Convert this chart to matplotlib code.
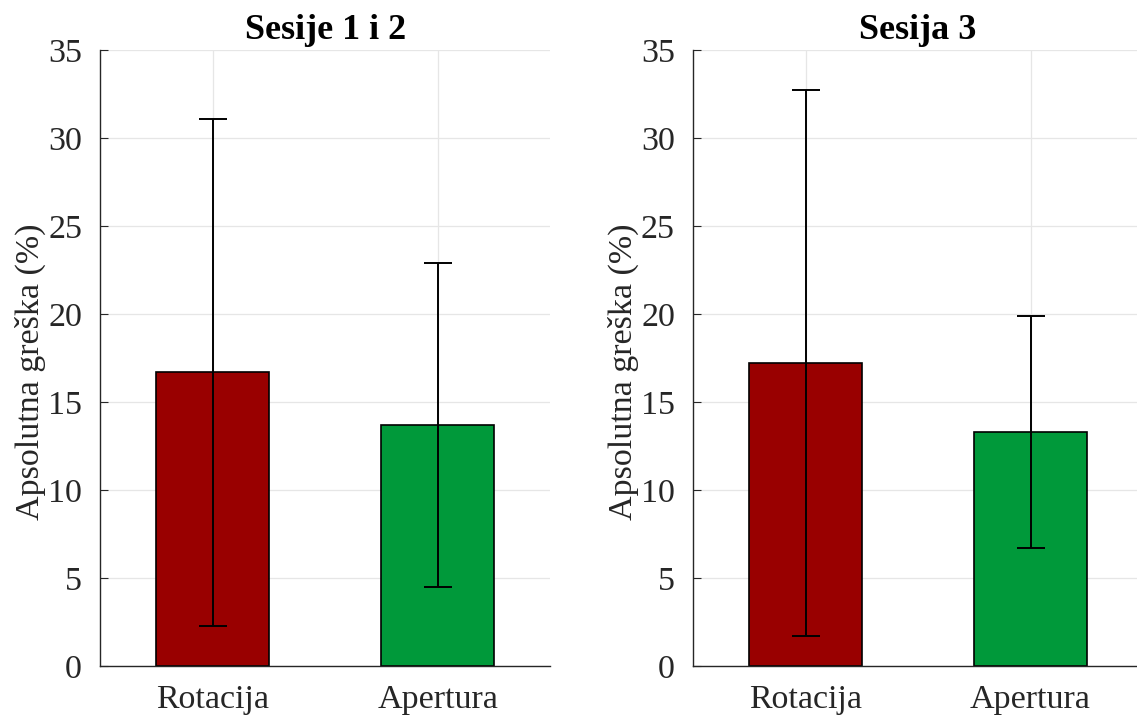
import numpy as np
import matplotlib.pyplot as plt

plt.rcParams['font.family'] = ['Liberation Serif', 'DejaVu Serif']

kategorije = ['Rotacija', 'Apertura']
boje = ['#990000', '#00993a']
naslovi = ['Sesije 1 i 2', 'Sesija 3']

# srednje vrijednosti i granice greske (donja, gornja)
sesije12_sred = [16.7, 13.7]
sesije12_dolje = [2.3, 4.5]
sesije12_gore = [31.1, 22.9]

sesija3_sred = [17.2, 13.3]
sesija3_dolje = [1.7, 6.7]
sesija3_gore = [32.7, 19.9]

podaci = [
    (sesije12_sred, sesije12_dolje, sesije12_gore),
    (sesija3_sred, sesija3_dolje, sesija3_gore),
]

fig = plt.figure(figsize=(11.37, 7.17), dpi=100)
pozicije = [[0.088, 0.0711, 0.3958, 0.8592], [0.6095, 0.0711, 0.3958, 0.8592]]

siva = '#262626'
for i, (sred, dolje, gore) in enumerate(podaci):
    ax = fig.add_axes(pozicije[i])
    x = np.arange(1, len(kategorije) + 1)
    sred = np.array(sred)
    err = [sred - np.array(dolje), np.array(gore) - sred]
    ax.bar(x, sred, width=0.5, color=boje, edgecolor='black', linewidth=1.2, zorder=2)
    ax.errorbar(x, sred, yerr=err, fmt='none', ecolor='black', elinewidth=1.4,
                capsize=10, capthick=1.4, zorder=3)
    ax.set_xlim(0.5, 2.5)
    ax.set_ylim(0, 35)
    ax.set_yticks(np.arange(0, 36, 5))
    ax.set_xticks(x)
    ax.set_xticklabels(kategorije)
    ax.grid(True, color='#e6e6e6', linewidth=0.9, zorder=0)
    ax.set_axisbelow(True)
    for s in ['top', 'right']:
        ax.spines[s].set_visible(False)
    for s in ['left', 'bottom']:
        ax.spines[s].set_color(siva)
        ax.spines[s].set_linewidth(1.0)
    ax.tick_params(direction='in', length=6, colors=siva, labelsize=24.5, labelcolor=siva)
    ax.tick_params(axis='y', pad=13)
    ax.tick_params(axis='x', length=0, pad=13)
    ax.set_ylabel('Apsolutna greška (%)', fontsize=24.5, color=siva)
    ax.yaxis.set_label_coords(-0.12, 0.477)
    ax.set_title(naslovi[i], fontsize=26, fontweight='bold', pad=8)

fig.savefig('out.png', dpi=100)
